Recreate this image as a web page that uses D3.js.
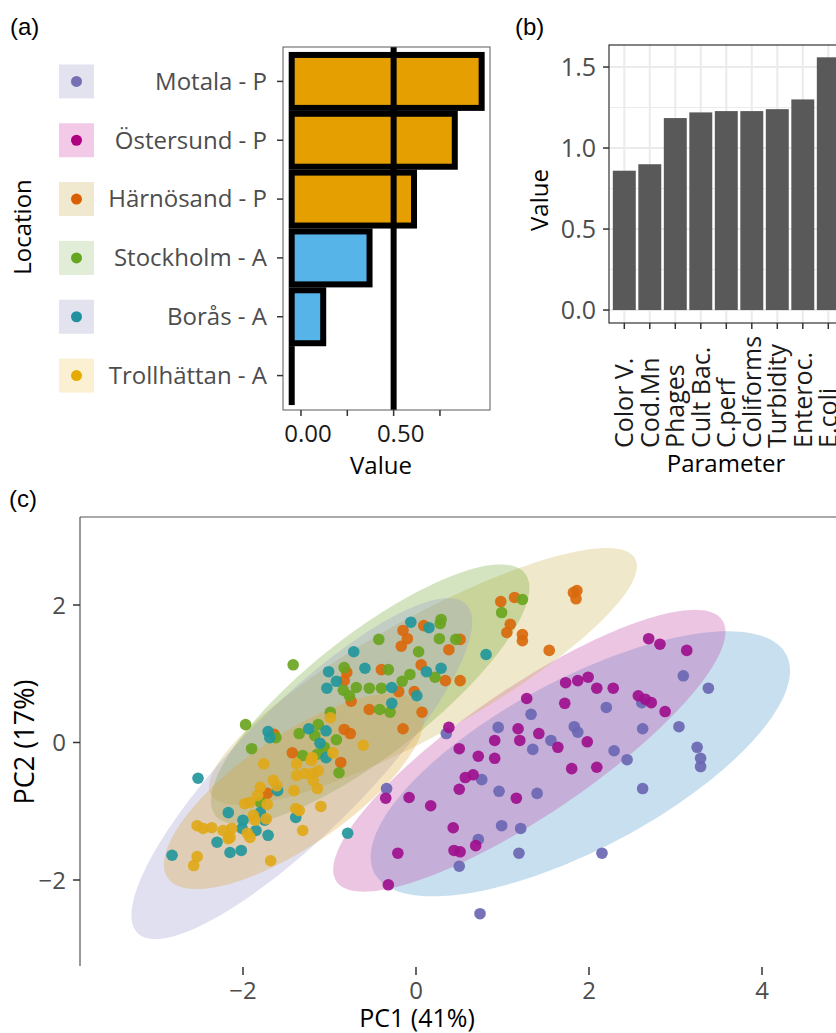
<!DOCTYPE html>
<html><head><meta charset="utf-8">
<script src="https://cdn.jsdelivr.net/npm/d3@7"></script>
<style>
body{margin:0;background:#fff}
svg{display:block}
text{font-family:"Open Sans","Noto Sans",sans-serif}
</style></head>
<body><svg id="fig" width="836" height="1033"></svg>
<script>
// ---------------- DATA ----------------
// panel (a)
const locations = ["Motala - P","Östersund - P","Härnösand - P","Stockholm - A","Borås - A","Trollhättan - A"];
const locValues = [0.975, 0.83, 0.61, 0.37, 0.12, -0.05];
const locBarBase = -0.05;
const locBarFill = ["#E69F00","#E69F00","#E69F00","#56B4E9","#56B4E9","#56B4E9"];
const locThreshold = 0.5;
const aTicks = [0, 0.25, 0.5, 0.75];
const aTickLabels = ["0.00", "", "0.50", ""];
const legendKeyFill = ["#E3E3F0","#F2CAE7","#F1E8D0","#E1EDD7","#E3E3F0","#FBF0D2"];
const legendDot = ["#7570B3","#B0007F","#D95F02","#66A61E","#2290A0","#E6AB02"];

// panel (b)
const params = ["Color V.","Cod.Mn","Phages","Cult Bac.","C.perf","Coliforms","Turbidity","Enteroc.","E.coli"];
const paramValues = [0.86, 0.90, 1.185, 1.22, 1.228, 1.228, 1.24, 1.30, 1.56];
const bTicks = [0, 0.5, 1.0, 1.5];
const bTickLabels = ["0.0","0.5","1.0","1.5"];
const bMinor = [0.25, 0.75, 1.25];

// panel (c)
const groups = ["Motala","Östersund","Härnösand","Stockholm","Borås","Trollhättan"];
const pointColors = ["#6A67B3","#9E108E","#D9690C","#69A51F","#22979C","#E0A819"];
const ellipseFill = ["#4696C8","#C040A2","#CDB250","#72A530","#9898CD","#DEA22D"];
const motalaPts = [[2.20,0.51],[1.33,0.41],[0.35,0.13],[0.95,0.22],[1.83,0.23],[1.87,0.15],[1.56,0.03],[1.35,-0.10],[2.29,-0.12],[3.09,0.97],[3.38,0.79],[2.61,0.58],[3.04,0.23],[3.25,-0.07],[3.29,-0.23],[3.29,-0.35],[2.62,0.20],[2.44,-0.25],[2.62,-0.67],[2.15,-1.61],[0.76,-0.54],[0.96,-0.71],[1.40,-0.74],[0.99,-1.21],[1.21,-1.25],[0.72,-1.41],[1.19,-1.61],[0.50,-1.80],[0.74,-2.49],[-0.34,-0.67]];
const ostersundPts = [[1.73,0.87],[1.87,0.90],[1.99,0.95],[2.09,0.79],[2.28,0.79],[1.28,0.64],[1.72,0.57],[0.38,0.22],[1.18,0.20],[1.42,0.13],[0.91,0.03],[1.20,0.03],[1.64,-0.07],[1.98,0.01],[0.50,-0.09],[0.72,-0.20],[0.91,-0.23],[2.69,1.51],[2.82,1.43],[3.13,1.34],[2.57,0.68],[2.65,0.63],[2.72,0.58],[2.88,0.45],[1.80,-0.38],[2.09,-0.36],[0.57,-0.51],[0.66,-0.47],[0.50,-0.68],[1.16,-0.81],[0.43,-1.24],[0.44,-1.57],[0.51,-1.59],[0.69,-1.50],[-0.35,-0.81],[-0.08,-0.80],[0.17,-0.92],[-0.21,-1.61],[-0.32,-2.07]];
const harnosandPts = [[-0.15,1.63],[-0.10,1.51],[-0.17,1.40],[0.09,1.70],[-0.80,1.02],[-0.83,0.90],[-0.75,0.60],[-0.40,1.06],[-0.20,0.74],[-0.02,0.74],[-0.54,0.48],[-0.15,0.20],[-0.83,0.19],[-0.76,0.13],[-1.64,0.12],[-1.43,-0.15],[0.98,2.05],[1.14,2.11],[1.09,1.72],[1.05,1.60],[1.23,1.57],[1.23,1.48],[1.82,2.18],[1.86,2.21],[1.85,2.09],[1.54,1.34],[0.38,1.35],[0.51,1.50],[0.06,1.13],[0.34,0.90],[0.51,0.90],[0.07,0.44],[-0.87,-0.29],[-1.72,-0.74]];
const stockholmPts = [[-1.42,1.13],[-1.97,0.26],[-1.90,-0.09],[-0.43,1.50],[-0.83,1.09],[-0.84,0.76],[-0.77,0.68],[-0.69,0.80],[-0.32,1.06],[-0.54,0.79],[-0.40,0.79],[-0.16,0.89],[-0.07,0.99],[-0.42,0.48],[-0.30,0.44],[-0.99,0.44],[-1.62,0.07],[-1.35,0.13],[-1.13,0.26],[-1.17,0.10],[-1.06,-0.07],[-0.92,0.04],[-1.31,-0.19],[-1.14,-0.17],[1.23,2.08],[0.99,1.89],[0.29,1.79],[0.28,1.73],[0.27,1.51],[0.46,1.50],[0.03,1.32],[0.22,0.95],[-0.89,-0.44],[-1.80,-0.87]];
const borasPts = [[-0.72,1.32],[-0.06,1.75],[-1.01,1.03],[-0.92,0.89],[-1.03,0.79],[-0.59,1.08],[-0.28,0.80],[0.01,0.68],[-0.28,0.57],[-1.71,0.16],[-1.69,0.07],[-1.24,0.20],[-1.04,0.17],[-1.11,-0.01],[0.81,1.28],[0.15,1.67],[0.12,1.03],[0.29,1.08],[-2.52,-0.52],[-1.04,-0.22],[-1.60,-0.70],[-1.39,-1.09],[-2.17,-1.02],[-1.80,-1.02],[-1.75,-1.13],[-2.00,-1.13],[-2.01,-1.25],[-1.85,-1.28],[-2.30,-1.45],[-1.71,-1.35],[-2.15,-1.60],[-2.02,-1.57],[-2.82,-1.64],[-0.79,-1.32]];
const trollhattanPts = [[-0.99,0.36],[-0.61,-0.04],[-1.20,-0.22],[-0.96,-0.15],[-1.76,-0.31],[-1.38,-0.31],[-1.21,-0.26],[-1.38,-0.48],[-1.28,-0.45],[-1.19,-0.45],[-1.13,-0.41],[-1.19,-0.55],[-1.14,-0.67],[-1.65,-0.55],[-1.61,-0.63],[-1.80,-0.65],[-1.83,-0.77],[-1.41,-0.70],[-1.98,-0.89],[-1.92,-0.87],[-1.72,-0.90],[-1.39,-0.96],[-1.35,-0.99],[-1.10,-0.93],[-1.88,-1.06],[-1.86,-1.13],[-1.73,-1.11],[-2.53,-1.21],[-2.46,-1.25],[-2.36,-1.24],[-2.23,-1.28],[-2.13,-1.25],[-2.15,-1.38],[-2.17,-1.40],[-1.95,-1.32],[-1.92,-1.38],[-1.31,-1.28],[-1.68,-1.72],[-2.53,-1.66],[-2.57,-1.79]];
// confidence ellipses: centre, major semi-axis vector, minor semi-axis vector (PC units)
const ellipseCentre = [[1.90,-0.31],[1.31,-0.12],[0.08,0.96],[-0.53,0.70],[-1.32,-0.38],[-1.41,-0.71]];
const ellipseMajor  = [[2.38,1.59],[2.23,1.90],[2.45,1.72],[1.79,1.76],[1.90,2.39],[1.46,1.26]];
const ellipseMinor  = [[0.46,-1.09],[0.41,-0.77],[0.34,-0.73],[0.43,-0.69],[0.52,-0.66],[0.36,-0.66]];
const cTicksX = [-2, 0, 2, 4];
const cTicksY = [-2, 0, 2];

// ---------------- DRAW ----------------
const svg = d3.select("#fig");
const GRAY = "#4D4D4D";

// ===== Panel (a) =====
svg.append("text").attr("x",10).attr("y",35).style("font-family","Liberation Sans, Arial, sans-serif")
  .style("font-size","24px").text("(a)");
const ax = d3.scaleLinear().domain([-0.097, 1.02]).range([283, 490]);
const ay = d3.scaleBand().domain(locations).range([52, 405]).paddingInner(0.1).paddingOuter(0.05);
const ga = svg.append("g");
ga.selectAll("rect.bar").data(locations).join("rect").attr("class","bar")
  .attr("x", (d,i) => ax(Math.min(locBarBase, locValues[i])))
  .attr("width", (d,i) => Math.max(0.01, Math.abs(ax(locValues[i]) - ax(locBarBase))))
  .attr("y", d => ay(d)).attr("height", ay.bandwidth())
  .attr("fill", (d,i) => locBarFill[i]).attr("stroke","#000").attr("stroke-width",6);
ga.append("line").attr("x1",ax(locThreshold)).attr("x2",ax(locThreshold)).attr("y1",47).attr("y2",410)
  .attr("stroke","#000").attr("stroke-width",6);
ga.append("rect").attr("x",283).attr("y",47).attr("width",207).attr("height",363)
  .attr("fill","none").attr("stroke","#5a5a5a").attr("stroke-width",1);
locations.forEach((d,i) => {
  const cy = ay(d) + ay.bandwidth()/2;
  ga.append("line").attr("x1",277).attr("x2",283).attr("y1",cy).attr("y2",cy).attr("stroke","#333").attr("stroke-width",1.5);
  ga.append("text").attr("x",267).attr("y",cy).attr("dy","0.35em").attr("text-anchor","end")
    .style("font-size","24px").attr("fill",GRAY).text(d);
  ga.append("rect").attr("x",59).attr("y",cy-17).attr("width",35).attr("height",34).attr("fill",legendKeyFill[i]);
  ga.append("circle").attr("cx",76.5).attr("cy",cy).attr("r",5.5).attr("fill",legendDot[i]);
});
aTicks.forEach((t,i) => {
  ga.append("line").attr("x1",ax(t)).attr("x2",ax(t)).attr("y1",410).attr("y2",416).attr("stroke","#333").attr("stroke-width",1.5);
  if (aTickLabels[i]) ga.append("text").attr("x",ax(t)+7).attr("y",442).attr("text-anchor","middle")
    .style("font-size","24px").attr("fill","#1a1a1a").text(aTickLabels[i]);
});
ga.append("text").attr("x",381).attr("y",474).attr("text-anchor","middle").style("font-size","24px").text("Value");
ga.append("text").attr("transform","translate(31,227) rotate(-90)").attr("text-anchor","middle").style("font-size","24px").text("Location");

// ===== Panel (b) =====
svg.append("text").attr("x",515).attr("y",35).style("font-family","Liberation Sans, Arial, sans-serif")
  .style("font-size","24px").text("(b)");
const bx = d3.scaleBand().domain(params).range([609, 843.6]).paddingInner(0.1).paddingOuter(0.15);
const by = d3.scaleLinear().domain([-0.08, 1.636]).range([323, 45]);
const gb = svg.append("g");
bMinor.forEach(t => gb.append("line").attr("x1",609).attr("x2",850).attr("y1",by(t)).attr("y2",by(t)).attr("stroke","#EBEBEB").attr("stroke-width",1));
bTicks.forEach(t => gb.append("line").attr("x1",609).attr("x2",850).attr("y1",by(t)).attr("y2",by(t)).attr("stroke","#EBEBEB").attr("stroke-width",2));
params.forEach(p => { const cx = bx(p)+bx.bandwidth()/2;
  gb.append("line").attr("x1",cx).attr("x2",cx).attr("y1",45).attr("y2",323).attr("stroke","#EBEBEB").attr("stroke-width",2); });
gb.selectAll("rect.pb").data(params).join("rect").attr("class","pb")
  .attr("x", d => bx(d)).attr("width", bx.bandwidth())
  .attr("y", (d,i) => by(paramValues[i])).attr("height", (d,i) => by(0) - by(paramValues[i]))
  .attr("fill","#595959");
gb.append("rect").attr("x",609).attr("y",45).attr("width",240).attr("height",278)
  .attr("fill","none").attr("stroke","#333").attr("stroke-width",1.2);
bTicks.forEach((t,i) => {
  gb.append("line").attr("x1",603).attr("x2",609).attr("y1",by(t)).attr("y2",by(t)).attr("stroke","#333").attr("stroke-width",1.5);
  gb.append("text").attr("x",596).attr("y",by(t)).attr("dy","0.36em").attr("text-anchor","end")
    .style("font-size","25px").attr("fill",GRAY).text(bTickLabels[i]);
});
params.forEach(p => { const cx = bx(p)+bx.bandwidth()/2;
  gb.append("line").attr("x1",cx).attr("x2",cx).attr("y1",323).attr("y2",329).attr("stroke","#333").attr("stroke-width",1.5);
  gb.append("text").attr("transform",`translate(${cx},448) rotate(-90)`).attr("dy","0.36em")
    .attr("text-anchor","start").style("font-size","25px").attr("fill","#1a1a1a").text(p);
});
gb.append("text").attr("x",726).attr("y",472).attr("text-anchor","middle").style("font-size","24px").text("Parameter");
gb.append("text").attr("transform","translate(548,200) rotate(-90)").attr("text-anchor","middle").style("font-size","24px").text("Value");

// ===== Panel (c) =====
svg.append("text").attr("x",9).attr("y",507).style("font-family","Liberation Sans, Arial, sans-serif")
  .style("font-size","24px").text("(c)");
const cx = d3.scaleLinear().domain([-2, 4]).range([243, 762]);
const cy = d3.scaleLinear().domain([-2, 2]).range([880, 605]);
const gc = svg.append("g");
const ell = d3.line().curve(d3.curveLinearClosed);
groups.forEach((g,i) => {
  const c = ellipseCentre[i], u = ellipseMajor[i], v = ellipseMinor[i];
  const pts = d3.range(0, 2*Math.PI, Math.PI/90).map(t => [
    cx(c[0] + u[0]*Math.cos(t) + v[0]*Math.sin(t)),
    cy(c[1] + u[1]*Math.cos(t) + v[1]*Math.sin(t))]);
  gc.append("path").attr("d", ell(pts)).attr("fill", ellipseFill[i]).attr("fill-opacity",0.3);
});
const allPts = [motalaPts, ostersundPts, harnosandPts, stockholmPts, borasPts, trollhattanPts];
allPts.forEach((arr,i) => {
  gc.selectAll(null).data(arr).join("circle")
    .attr("cx", d => cx(d[0])).attr("cy", d => cy(d[1])).attr("r",5.8)
    .attr("fill", pointColors[i]).attr("fill-opacity",0.92);
});
gc.append("line").attr("x1",80).attr("x2",836).attr("y1",517).attr("y2",517).attr("stroke","#555").attr("stroke-width",1.2);
gc.append("line").attr("x1",80).attr("x2",80).attr("y1",517).attr("y2",966).attr("stroke","#555").attr("stroke-width",1.2);
cTicksY.forEach(t => {
  gc.append("line").attr("x1",73).attr("x2",80).attr("y1",cy(t)).attr("y2",cy(t)).attr("stroke","#333").attr("stroke-width",1.5);
  gc.append("text").attr("x",66).attr("y",cy(t)).attr("dy","0.36em").attr("text-anchor","end")
    .style("font-size","24px").attr("fill",GRAY).text(d3.format("d")(t).replace("-","\u2212"));
});
cTicksX.forEach(t => {
  gc.append("line").attr("x1",cx(t)).attr("x2",cx(t)).attr("y1",967).attr("y2",975).attr("stroke","#333").attr("stroke-width",1.5);
  gc.append("text").attr("x",cx(t)).attr("y",999).attr("text-anchor","middle")
    .style("font-size","24px").attr("fill",GRAY).text(d3.format("d")(t).replace("-","\u2212"));
});
gc.append("text").attr("x",417).attr("y",1027).attr("text-anchor","middle").style("font-size","25px").text("PC1 (41%)");
gc.append("text").attr("transform","translate(34,742) rotate(-90)").attr("text-anchor","middle").style("font-size","27px").text("PC2 (17%)");
</script></body></html>
